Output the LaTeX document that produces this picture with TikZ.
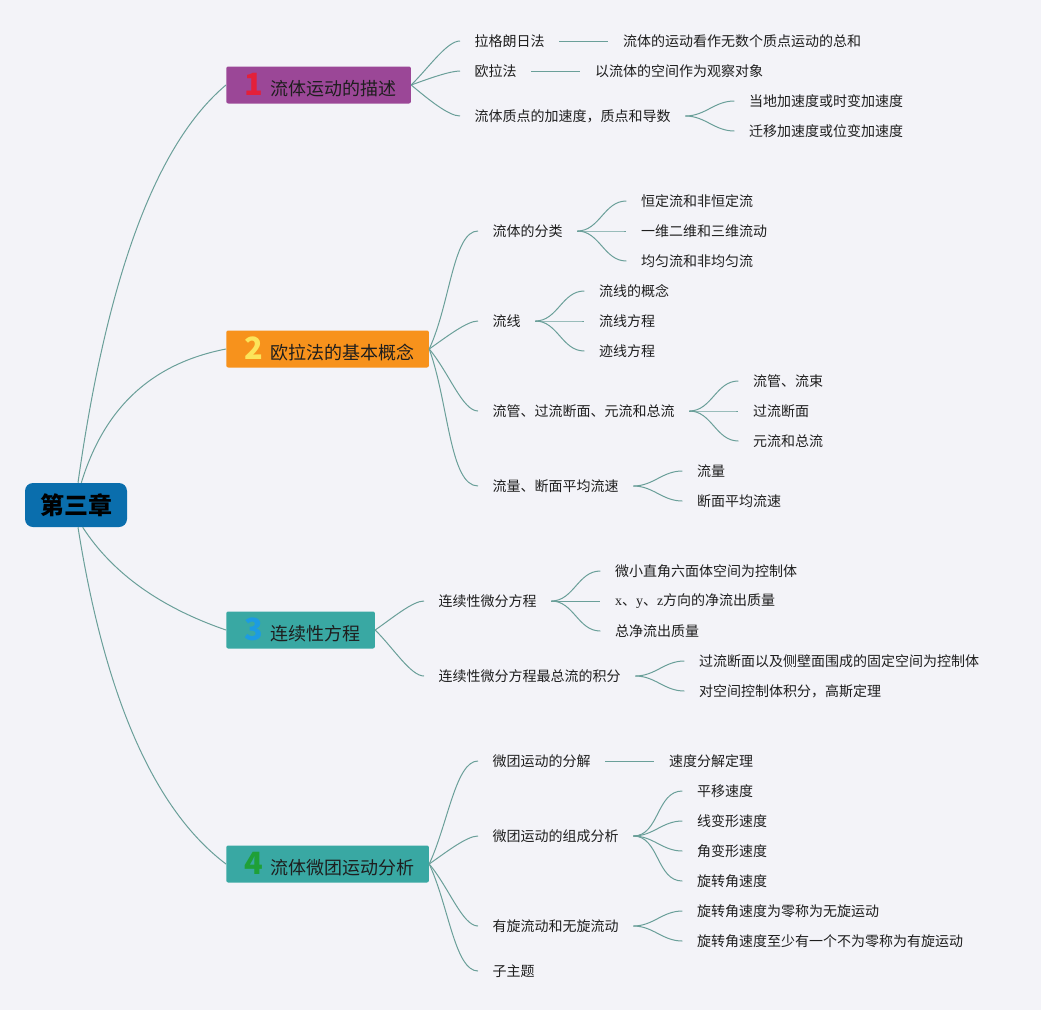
\documentclass[tikz,border=0pt]{standalone}
\usepackage{fontspec}
\setmainfont{Noto Sans CJK SC}
\newfontfamily\latinserif{Liberation Serif}
\usepackage{tikz}
\usetikzlibrary{positioning}
\definecolor{paper}{HTML}{F3F3F8}
\definecolor{link}{HTML}{6A9F99}
\definecolor{ink}{HTML}{1E1E1E}
\definecolor{rootblue}{HTML}{0A6EAD}
\definecolor{tpurple}{HTML}{9B4797}
\definecolor{torange}{HTML}{F7921C}
\definecolor{tteal}{HTML}{39A8A3}
\definecolor{nred}{HTML}{E3203A}
\definecolor{nyellow}{HTML}{FCE45A}
\definecolor{nblue}{HTML}{1D9BE2}
\definecolor{ngreen}{HTML}{1FA038}
\newcommand\topicnum[2]{\makebox[22pt][l]{\hspace{2.5pt}\raisebox{-.5pt}{\fontsize{23}{23}\selectfont\bfseries\color{#1}#2}}}
\tikzset{link/.style={draw=link,line width=.75pt},fan/.style={in=180,in looseness=.5},rootbox/.style={fill=rootblue,rounded corners=6pt,inner xsep=11.25pt,minimum height=33pt,font=\fontsize{18}{20}\selectfont\bfseries,text=black},topic/.style={anchor=west,rounded corners=1.5pt,inner xsep=11pt,minimum height=27.75pt,font=\fontsize{13.5}{15}\selectfont,text=ink},leaf/.style={anchor=west,inner xsep=0pt,outer xsep=11pt,font=\fontsize{10.5}{12}\selectfont,text=ink}}

\begin{document}
\begin{tikzpicture}[x=.75pt,y=-.75pt]
 \fill[paper] (0,0) rectangle (1041,1010);
 \useasboundingbox (0,0) rectangle (1041,1010);
 \node[rootbox] (root) at (76,505) {第三章};
 \node[topic,fill=tpurple] (t1) at (226,85) {\topicnum{nred}{1}流体运动的描述};
 \node[topic,fill=torange] (t2) at (226,349) {\topicnum{nyellow}{2}欧拉法的基本概念};
 \node[topic,fill=tteal] (t3) at (226,630) {\topicnum{nblue}{3}连续性方程};
 \node[topic,fill=tteal] (t4) at (226,864) {\topicnum{ngreen}{4}流体微团运动分析};
 \draw[link] ([xshift=1.5pt]root.north) to[out=82,in=220,out looseness=1.25,in looseness=.55] (t1.west);
 \draw[link] ([xshift=4pt]root.north) to[out=73,in=191] (t2.west);
 \draw[link] ([xshift=5pt]root.south) to[out=-57,in=161,out looseness=.8] (t3.west);
 \draw[link] ([xshift=1.5pt]root.south) to[out=-81,in=143,out looseness=1.19,in looseness=.63] (t4.west);
 % 1
 \node[leaf] (lg) at (460,41) {拉格朗日法};
 \node[leaf] (ol) at (460,71) {欧拉法};
 \node[leaf] (js) at (460,116) {流体质点的加速度，质点和导数};
 \node[leaf,right=36.75pt of lg] (lg1) {流体的运动看作无数个质点运动的总和};
 \node[leaf,right=36.75pt of ol] (ol1) {以流体的空间作为观察对象};
 \draw[link] (lg.east) -- (lg1.west); \draw[link] (ol.east) -- (ol1.west);
 \foreach \n/\d/\txt in {1/-15/当地加速度或时变加速度,2/15/迁移加速度或位变加速度}{\node[leaf] (js\n) at ([shift={(49,\d)}]js.east) {\txt}; \draw[link] (js.east) to[out=0,in=180] (js\n.west);}
 \foreach \c/\o in {lg/45,ol/20,js/-40}{\draw[link] (t1.east) to[fan,out=\o] (\c.west);}
 % 2
 \node[leaf] (fl) at (478,231) {流体的分类};
 \node[leaf] (lx) at (478,321) {流线};
 \node[leaf] (gl) at (478,411) {流管、过流断面、元流和总流};
 \node[leaf] (ll) at (478,486) {流量、断面平均流速};
 \foreach \n/\d/\txt in {1/-30/恒定流和非恒定流,2/0/一维二维和三维流动,3/30/均匀流和非均匀流}{\node[leaf] (fl\n) at ([shift={(49,\d)}]fl.east) {\txt}; \draw[link] (fl.east) to[out=0,in=180] (fl\n.west);}
 \foreach \n/\d/\txt in {1/-30/流线的概念,2/0/流线方程,3/30/迹线方程}{\node[leaf] (lx\n) at ([shift={(49,\d)}]lx.east) {\txt}; \draw[link] (lx.east) to[out=0,in=180] (lx\n.west);}
 \foreach \n/\d/\txt in {1/-30/流管、流束,2/0/过流断面,3/30/元流和总流}{\node[leaf] (gl\n) at ([shift={(49,\d)}]gl.east) {\txt}; \draw[link] (gl.east) to[out=0,in=180] (gl\n.west);}
 \foreach \n/\d/\txt in {1/-15/流量,2/15/断面平均流速}{\node[leaf] (ll\n) at ([shift={(49,\d)}]ll.east) {\txt}; \draw[link] (ll.east) to[out=0,in=180] (ll\n.west);}
 \foreach \c/\o in {fl/65,lx/35,gl/-50,ll/-70}{\draw[link] (t2.east) to[fan,out=\o] (\c.west);}
 % 3
 \node[leaf] (wf) at (424,601) {连续性微分方程};
 \node[leaf] (jf) at (424,676) {连续性微分方程最总流的积分};
 \foreach \n/\d/\txt in {1/-30/微小直角六面体空间为控制体,2/0/{\latinserif x}、{\latinserif y}、{\latinserif z}方向的净流出质量,3/30/总净流出质量}{\node[leaf] (wf\n) at ([shift={(49,\d)}]wf.east) {\txt}; \draw[link] (wf.east) to[out=0,in=180] (wf\n.west);}
 \foreach \n/\d/\txt in {1/-15/过流断面以及侧壁面围成的固定空间为控制体,2/15/对空间控制体积分，高斯定理}{\node[leaf] (jf\n) at ([shift={(49,\d)}]jf.east) {\txt}; \draw[link] (jf.east) to[out=0,in=180] (jf\n.west);}
 \foreach \c/\o in {wf/35,jf/-45}{\draw[link] (t3.east) to[fan,out=\o] (\c.west);}
 % 4
 \node[leaf] (fj) at (478,761) {微团运动的分解};
 \node[leaf] (zc) at (478,836) {微团运动的组成分析};
 \node[leaf] (yx) at (478,926) {有旋流动和无旋流动};
 \node[leaf] (zz) at (478,971) {子主题};
 \node[leaf,right=36.75pt of fj] (fj1) {速度分解定理};
 \draw[link] (fj.east) -- (fj1.west);
 \foreach \n/\d/\txt in {1/-45/平移速度,2/-15/线变形速度,3/15/角变形速度,4/45/旋转角速度}{\node[leaf] (zc\n) at ([shift={(49,\d)}]zc.east) {\txt}; \draw[link] (zc.east) to[out=0,in=180] (zc\n.west);}
 \foreach \n/\d/\txt in {1/-15/旋转角速度为零称为无旋运动,2/15/旋转角速度至少有一个不为零称为有旋运动}{\node[leaf] (yx\n) at ([shift={(49,\d)}]yx.east) {\txt}; \draw[link] (yx.east) to[out=0,in=180] (yx\n.west);}
 \foreach \c/\o in {fj/65,zc/35,yx/-50,zz/-65}{\draw[link] (t4.east) to[fan,out=\o] (\c.west);}
\end{tikzpicture}
\end{document}
